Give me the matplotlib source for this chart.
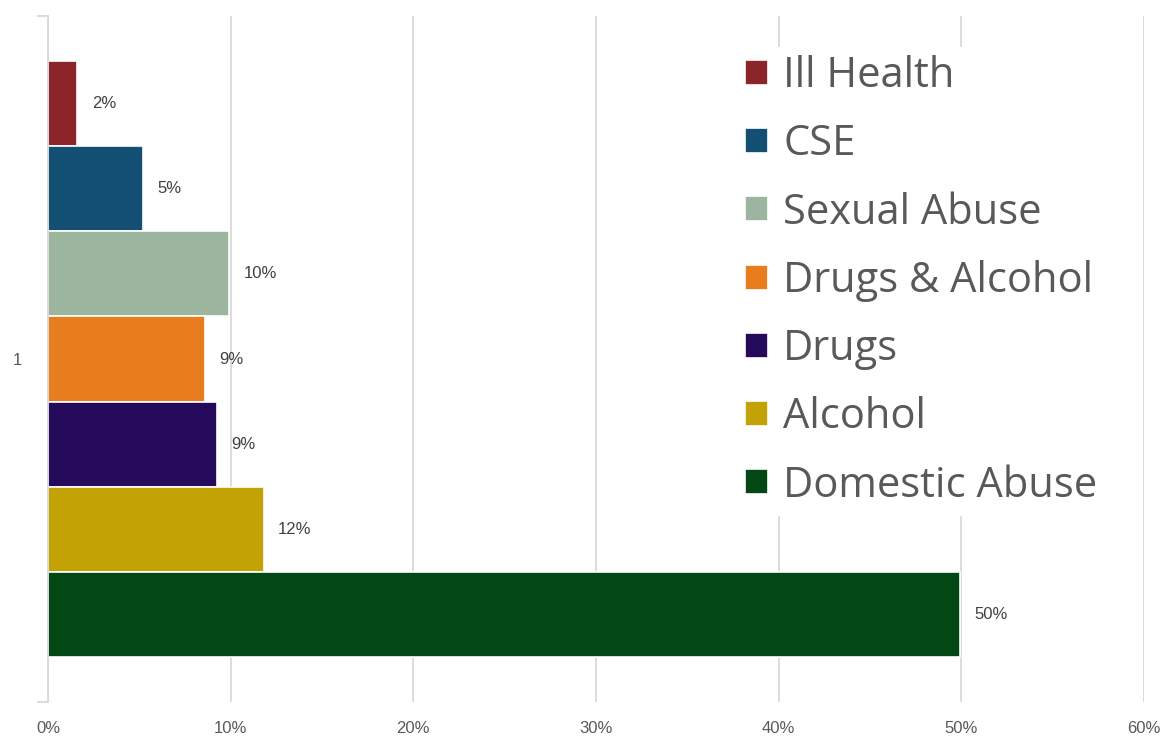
import matplotlib.pyplot as plt
from matplotlib.ticker import FixedLocator

# data
categories = ["Ill Health", "CSE", "Sexual Abuse", "Drugs & Alcohol", "Drugs", "Alcohol", "Domestic Abuse"]
values = [1.6, 5.2, 9.9, 8.6, 9.25, 11.8, 49.9]
labels = ["2%", "5%", "10%", "9%", "9%", "12%", "50%"]
colors = ["#8B2529", "#134F73", "#9BB59F", "#E87D1E", "#25095A", "#C2A204", "#034714"]
xticks = [0, 10, 20, 30, 40, 50, 60]

fig = plt.figure(figsize=(11.68, 7.4), dpi=100)
ax = fig.add_axes([48 / 1168, 1 - 702 / 740, (1144 - 48) / 1168, (702 - 16) / 740])

slot = 0.124
n = len(categories)
for i, (cat, v, lab, c) in enumerate(zip(categories, values, labels, colors)):
    y = (3 - i) * slot
    ax.barh(y, v, height=slot, color=c, edgecolor="white", linewidth=1.2, label=cat, zorder=2)
    ax.text(v + 0.8, y, lab, va="center", ha="left", fontsize=12, color="#404040",
            family="Liberation Sans")

ax.set_xlim(0, 60)
ax.set_ylim(-0.5, 0.5)
ax.set_xticks(xticks)
ax.set_xticklabels([f"{t}%" for t in xticks], fontsize=12, color="#595959", family="Liberation Sans")
ax.tick_params(axis="x", length=0, pad=14)
ax.xaxis.grid(True, color="#d9d9d9", linewidth=1.3, zorder=0)
ax.set_axisbelow(True)

ax.yaxis.set_major_locator(FixedLocator([-0.5, 0.5]))
ax.set_yticklabels(["", ""])
ax.yaxis.set_minor_locator(FixedLocator([0]))
ax.set_yticklabels(["1"], minor=True, fontsize=12, color="#595959", family="Liberation Sans")
ax.tick_params(axis="y", which="major", length=8, color="#d9d9d9", width=1.3)
ax.tick_params(axis="y", which="minor", length=0, pad=19)

for s in ["top", "right", "bottom"]:
    ax.spines[s].set_visible(False)
ax.spines["left"].set_color("#d9d9d9")
ax.spines["left"].set_linewidth(1.3)

leg = ax.legend(loc="upper left", bbox_to_anchor=(716 / 1168, 1 - 26 / 740), bbox_transform=fig.transFigure,
                frameon=True, fancybox=False, framealpha=1, edgecolor="white",
                prop={"family": "Open Sans", "size": 30}, labelcolor="#595959",
                handlelength=0.55, handleheight=0.55, handletextpad=0.36, labelspacing=0.63,
                borderpad=0.2)
leg.set_zorder(5)

plt.savefig("out.png", dpi=100)
